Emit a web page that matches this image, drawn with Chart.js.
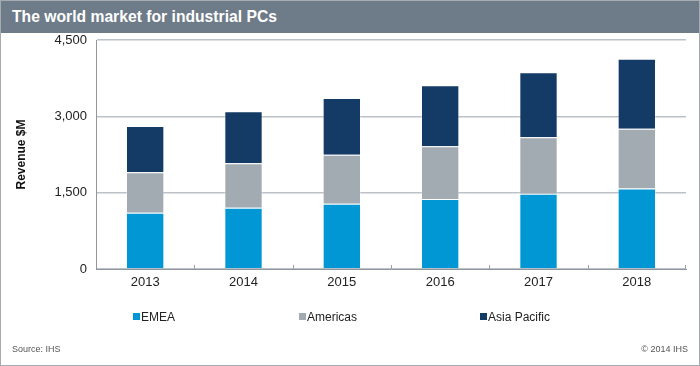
<!DOCTYPE html>
<html>
<head>
<meta charset="utf-8">
<script src="https://cdn.jsdelivr.net/npm/chart.js@4/dist/chart.umd.min.js"></script>
<style>
	html, body { margin: 0; padding: 0; background: #fff; }
	#frame {
		position: relative;
		width: 698px;
		height: 364px;
		border: 1px solid #a6abb0;
		font-family: "Liberation Sans", Arial, sans-serif;
		overflow: hidden;
	}
	#titlebar {
		position: absolute; left: 0; top: 0; width: 698px; height: 32px;
		background: #6e7b88; color: #fff;
		font-weight: bold; font-size: 15.7px; line-height: 32px;
		padding-left: 11px; box-sizing: border-box;
	}
	#chart { position: absolute; left: -1px; top: -1px; }
	.legend-item {
		position: absolute; top: 308px; font-size: 12px; color: #222;
		line-height: 16px; white-space: nowrap;
	}
	.legend-item span {
		display: inline-block; width: 7px; height: 7px; margin-right: 1px;
		vertical-align: 1px;
	}
	.foot { position: absolute; top: 343px; font-size: 9px; color: #555; }
</style>
</head>
<body>
<div id="frame">
	<div id="titlebar">The world market for industrial PCs</div>
	<canvas id="chart" width="700" height="366"></canvas>
	<div id="legend"></div>
	<div class="foot" style="left: 11px;">Source: IHS</div>
	<div class="foot" style="right: 11px;">© 2014 IHS</div>
</div>
<script>
"use strict";

const years = ["2013", "2014", "2015", "2016", "2017", "2018"];
const emea = [1105, 1205, 1280, 1375, 1480, 1580];
const americas = [795, 872, 966, 1036, 1108, 1177];
const asiaPacific = [910, 1022, 1114, 1199, 1277, 1376];
const yTicks = [0, 1500, 3000, 4500];

const seriesNames = ["EMEA", "Americas", "Asia Pacific"];
const seriesColors = ["#0097d4", "#a3abb2", "#143a66"];
const legendLeft = [132, 298, 479];

// small upward ticks at the category boundaries of the x axis
const catTicks = {
	id: "catTicks",
	afterDraw(chart) {
		const x = chart.scales.x;
		const ctx = chart.ctx;
		const bottom = chart.chartArea.bottom;
		ctx.save();
		ctx.strokeStyle = "#9aa1a8";
		ctx.lineWidth = 1;
		for (let i = 0; i < years.length; ++i) {
			let px;
			if (i + 1 < years.length) {
				px = Math.round((x.getPixelForValue(i) + x.getPixelForValue(i + 1)) / 2);
			} else {
				px = Math.round(x.right) - 1;
			}
			ctx.beginPath();
			ctx.moveTo(px + 0.5, bottom - 4);
			ctx.lineTo(px + 0.5, bottom);
			ctx.stroke();
		}
		ctx.restore();
	}
};

const datasets = [emea, americas, asiaPacific].map((d, i) => ({
	label: seriesNames[i],
	data: d,
	backgroundColor: seriesColors[i],
	borderColor: "rgba(255,255,255,0.3)",
	borderWidth: 1,
	categoryPercentage: 1,
	barPercentage: 0.39,
}));

new Chart(document.getElementById("chart"), {
	type: "bar",
	data: { labels: years, datasets: datasets },
	plugins: [catTicks],
	options: {
		responsive: false,
		animation: false,
		layout: { padding: { top: 40, right: 14, bottom: 67, left: 0 } },
		plugins: { legend: { display: false }, tooltip: { enabled: false } },
		scales: {
			x: {
				stacked: true,
				grid: { display: false, drawTicks: false },
				border: { display: true, color: "#8f969d", width: 1 },
				ticks: { color: "#222", font: { family: "Liberation Sans", size: 13 }, padding: 6 },
				afterFit: s => { s.height = 30; },
			},
			y: {
				stacked: true,
				min: 0, max: 4500,
				afterBuildTicks: s => { s.ticks = yTicks.map(v => ({ value: v })); },
				grid: { color: "#bcc2c8", lineWidth: 1.5, drawTicks: false },
				border: { display: true, color: "#8f969d", width: 1 },
				ticks: {
					color: "#222", padding: 9,
					font: { family: "Liberation Sans", size: 13 },
					callback: v => v.toLocaleString("en-US"),
				},
				title: {
					display: true, text: "Revenue $M", color: "#111",
					font: { family: "Liberation Sans", size: 12, weight: "bold" },
					padding: { top: 14, bottom: 0 },
				},
				afterFit: s => { s.width = 96; },
			},
		},
	},
});

const legend = document.getElementById("legend");
seriesNames.forEach((name, i) => {
	const item = document.createElement("div");
	item.className = "legend-item";
	item.style.left = legendLeft[i] + "px";
	item.innerHTML = `<span style="background:${seriesColors[i]}"></span>${name}`;
	legend.appendChild(item);
});
</script>
</body>
</html>
